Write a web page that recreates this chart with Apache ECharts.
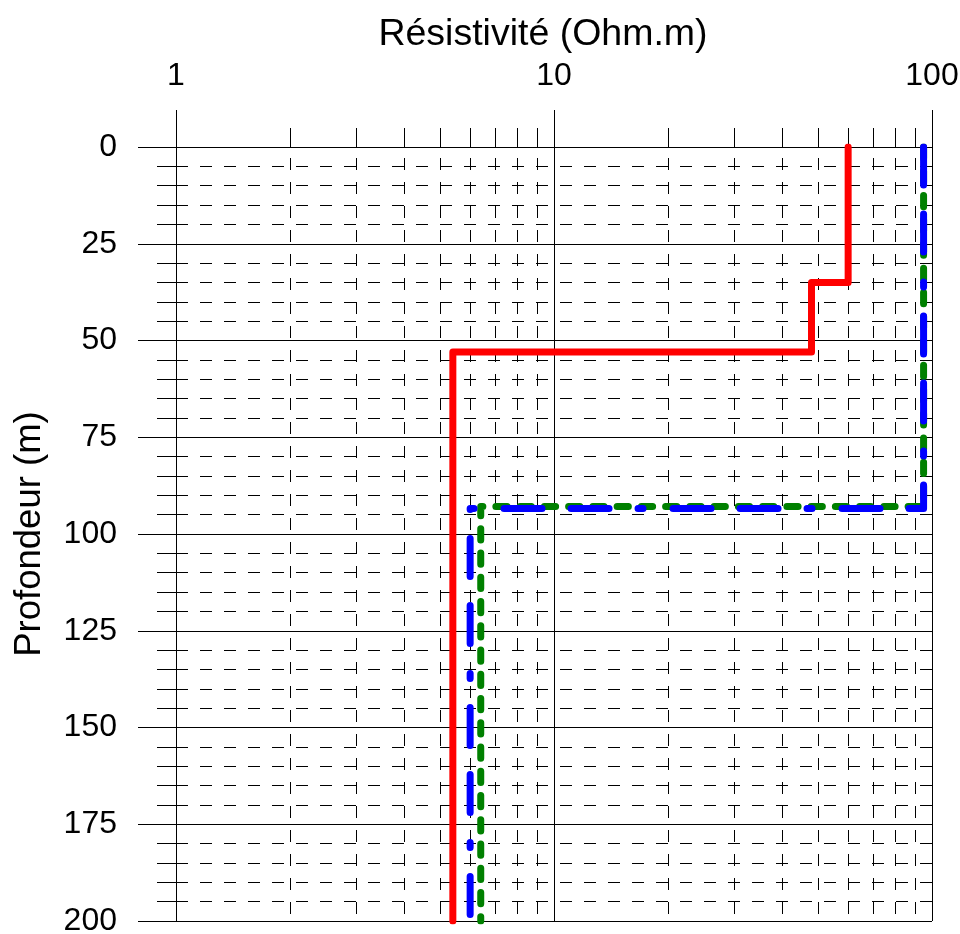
<!DOCTYPE html>
<html>
<head>
<meta charset="utf-8">
<title>Résistivité</title>
<script src="https://cdn.jsdelivr.net/npm/echarts@6/dist/echarts.min.js"></script>
<style>
  html, body { margin: 0; padding: 0; background: #fff; overflow: hidden; }
  #chart { width: 960px; height: 934px; }
</style>
</head>
<body>
<div id="chart"></div>
<script>
// Axis ticks and labels
const xTicks = [1, 10, 100];
const xTickLabels = ['1', '10', '100'];
const xMinorTicks = [2, 3, 4, 5, 6, 7, 8, 9, 20, 30, 40, 50, 60, 70, 80, 90];
const yTicks = [0, 25, 50, 75, 100, 125, 150, 175, 200];
const yTickLabels = ['0', '25', '50', '75', '100', '125', '150', '175', '200'];

// Resistivity profiles (Ohm.m) against depth (m), as step vertices
const redRes = [60, 60, 48, 48, 5.4, 5.4];
const redDepth = [0, 35, 35, 53, 53, 200];
const greenRes = [95, 95, 6.4, 6.4];
const greenDepth = [0, 92.9, 92.9, 200];
const blueRes = [95, 95, 6.0, 6.0];
const blueDepth = [0, 93.4, 93.4, 200];

const FONT = 'Liberation Sans, Arial, sans-serif';
const pairs = (xs, ys) => xs.map((x, i) => [x, ys[i]]);

const chart = echarts.init(document.getElementById('chart'), null, { renderer: 'canvas' });

chart.setOption({
  animation: false,
  backgroundColor: '#fff',
  grid: { left: 176, right: 28, top: 147, bottom: 13, containLabel: false, outerBoundsMode: 'none' },
  xAxis: {
    type: 'log',
    logBase: 10,
    min: 1,
    max: 100,
    position: 'top',
    name: 'Résistivité (Ohm.m)',
    nameLocation: 'middle',
    nameGap: 93,
    nameTextStyle: { fontFamily: FONT, fontSize: 37.5, color: '#000', padding: [0, 22, 0, 0] },
    axisLine: { show: true, lineStyle: { color: '#000', width: 1 } },
    axisTick: { show: true, inside: false, length: 37, lineStyle: { color: '#000', width: 1 } },
    minorTick: { show: false },
    axisLabel: {
      margin: 55,
      fontFamily: FONT,
      fontSize: 32,
      color: '#000',
      hideOverlap: false,
      alignMinLabel: 'center',
      alignMaxLabel: 'center',
      formatter: v => {
        const i = xTicks.findIndex(t => Math.abs(t - v) < 1e-6 * t);
        return i >= 0 ? xTickLabels[i] : '';
      }
    },
    splitLine: { show: true, lineStyle: { color: '#000', width: 1 } },
    minorSplitLine: { show: false }
  },
  yAxis: {
    type: 'value',
    inverse: true,
    min: 0,
    max: 200,
    interval: 25,
    name: 'Profondeur (m)',
    nameLocation: 'middle',
    nameRotate: 90,
    nameGap: 128,
    nameTextStyle: { fontFamily: FONT, fontSize: 36.5, color: '#000' },
    axisLine: { show: true, lineStyle: { color: '#000', width: 1 } },
    axisTick: { show: true, inside: false, length: 38, lineStyle: { color: '#000', width: 1 } },
    minorTick: { show: true, splitNumber: 5, length: 19, lineStyle: { color: '#000', width: 1 } },
    axisLabel: {
      margin: 59,
      fontFamily: FONT,
      fontSize: 32,
      color: '#000',
      formatter: v => {
        const i = yTicks.indexOf(v);
        return i >= 0 ? yTickLabels[i] : '';
      }
    },
    splitLine: { show: true, lineStyle: { color: '#000', width: 1 } },
    minorSplitLine: { show: true, lineStyle: { color: '#000', width: 1, type: [12, 12] } }
  },
  series: [
    {
      // minor decades on the log axis: outer tick plus dashed grid line
      type: 'custom',
      coordinateSystem: 'cartesian2d',
      silent: true,
      clip: false,
      z: 1,
      data: xMinorTicks.map(v => [v, 0]),
      renderItem: (params, api) => {
        const x = Math.round(api.coord([api.value(0), 0])[0]) + 0.5;
        const top = params.coordSys.y;
        const bottom = top + params.coordSys.height;
        return {
          type: 'group',
          children: [
            { type: 'line', shape: { x1: x, y1: top - 19, x2: x, y2: top },
              style: { stroke: '#000', lineWidth: 1 } },
            { type: 'line', shape: { x1: x, y1: top, x2: x, y2: bottom },
              style: { stroke: '#000', lineWidth: 1, lineDash: [12, 12], lineDashOffset: 13 } }
          ]
        };
      }
    },
    {
      type: 'line',
      data: pairs(redRes, redDepth),
      showSymbol: false,
      symbol: 'none',
      z: 3,
      lineStyle: { color: '#ff0000', width: 7, cap: 'round', join: 'round' }
    },
    {
      type: 'line',
      data: pairs(greenRes, greenDepth),
      showSymbol: false,
      symbol: 'none',
      z: 3,
      lineStyle: { color: '#008000', width: 7, type: [11.25, 13], cap: 'round', join: 'round' }
    },
    {
      type: 'line',
      data: pairs(blueRes, blueDepth),
      showSymbol: false,
      symbol: 'none',
      z: 3,
      lineStyle: { color: '#0000ff', width: 7, type: [38, 29, 38, 30, 5, 29], cap: 'round', join: 'round' }
    }
  ]
});
</script>
</body>
</html>
